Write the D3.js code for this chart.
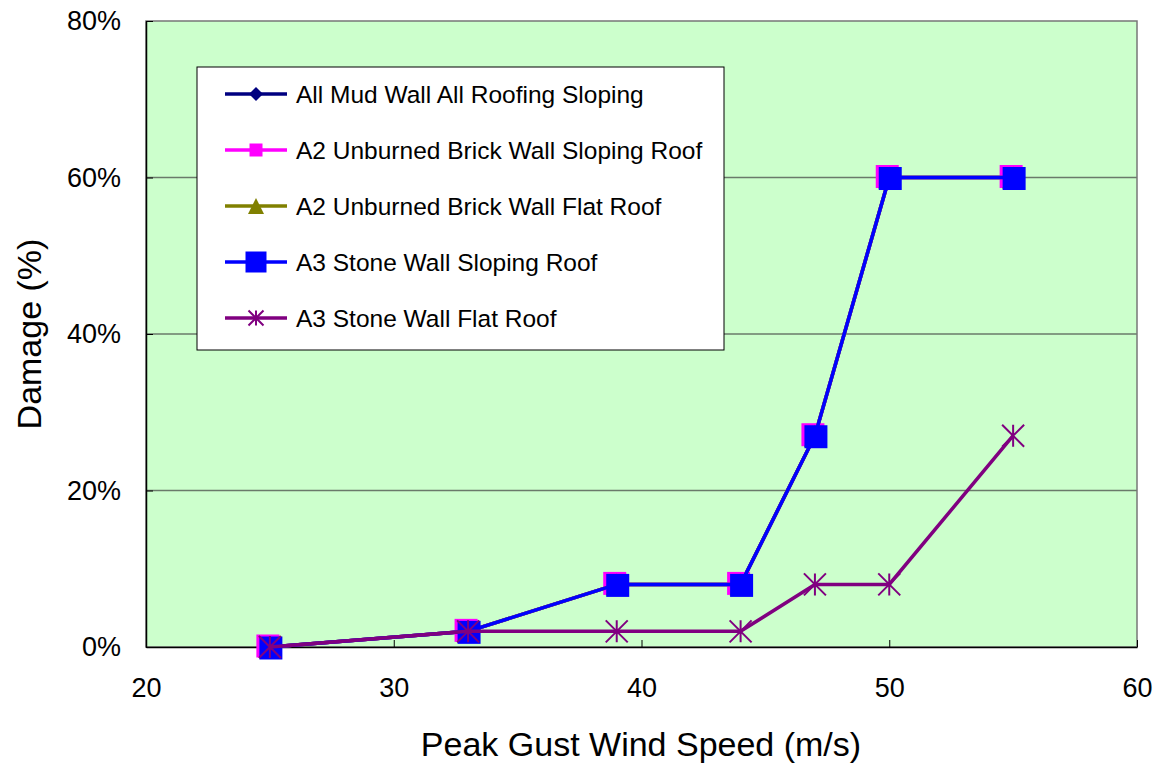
<!DOCTYPE html>
<html>
<head>
<meta charset="utf-8">
<script src="https://cdn.jsdelivr.net/npm/d3@7"></script>
<style>
  body { margin: 0; background: #fff; }
  text { font-family: "Liberation Sans", Arial, sans-serif; fill: #000; }
</style>
</head>
<body>
<div id="chart-area"></div>
<script>
// Damage vs peak gust wind speed
var windSpeeds = [25, 33, 39, 44, 47, 50, 55];
var mudSloping = [0, 2, 8, 8, 27, 60, 60];
var brickSloping = [0, 2, 8, 8, 27, 60, 60];
var brickFlat = [0, 2, 8, 8, 27, 60, 60];
var stoneSloping = [0, 2, 8, 8, 27, 60, 60];
var stoneFlat = [0, 2, 2, 2, 8, 8, 27];
var seriesNames = [
    "All Mud Wall All Roofing Sloping",
    "A2 Unburned Brick Wall Sloping Roof",
    "A2 Unburned Brick Wall Flat Roof",
    "A3 Stone Wall Sloping Roof",
    "A3 Stone Wall Flat Roof"
];
var xTicks = [20, 30, 40, 50, 60];
var yTicks = [0, 20, 40, 60, 80];

var styles = [
    {color: "#000080", shape: "diamond", size: 13, dx: 0, dy: 0},
    {color: "#ff00ff", shape: "square", size: 23, dx: -2, dy: -1},
    {color: "#808000", shape: "triangle", size: 22, dx: 0, dy: 0},
    {color: "#0000ff", shape: "square", size: 23, dx: 1, dy: 1},
    {color: "#800080", shape: "star", size: 22, dx: 0, dy: 0}
];
var legendSizes = [14, 13, 16, 21, 15];

var allValues = [mudSloping, brickSloping, brickFlat, stoneSloping, stoneFlat];
var series = seriesNames.map(function(name, i) {
    return {
        name: name,
        style: styles[i],
        values: windSpeeds.map(function(w, j) { return {x: w, y: allValues[i][j]}; })
    };
});

var margin = {left: 146, right: 20, top: 21, bottom: 120};
var totalW = 1157, totalH = 767;
var width = totalW - margin.left - margin.right,
    height = totalH - margin.top - margin.bottom;

var svg = d3.select("#chart-area").append("svg")
    .attr("width", totalW)
    .attr("height", totalH);

var g = svg.append("g").attr("transform", "translate(" + margin.left + "," + margin.top + ")");

var x = d3.scaleLinear().domain([20, 60]).range([0, width]);
var y = d3.scaleLinear().domain([0, 80]).range([height, 0]);

// plot background
g.append("rect")
    .attr("width", width)
    .attr("height", height)
    .attr("fill", "#ccffcc");

// gridlines
g.selectAll(".grid")
    .data(yTicks.slice(1, -1))
    .enter().append("line")
    .attr("x1", 0).attr("x2", width)
    .attr("y1", function(d) { return y(d); })
    .attr("y2", function(d) { return y(d); })
    .attr("stroke", "#6a7a6a")
    .attr("stroke-width", 1.5);

g.append("rect")
    .attr("width", width)
    .attr("height", height)
    .attr("fill", "none")
    .attr("stroke", "#777")
    .attr("stroke-width", 1.5);

// axes
var xAxis = d3.axisBottom(x).tickValues(xTicks).tickSizeInner(-7).tickSizeOuter(0).tickPadding(31);
var xAxisGroup = g.append("g").attr("transform", "translate(0," + height + ")").call(xAxis);
xAxisGroup.select(".domain").attr("stroke", "#000").attr("stroke-width", 1.5);
xAxisGroup.selectAll("text").attr("font-size", "27px").attr("font-family", "Liberation Sans, Arial, sans-serif");

var yAxis = d3.axisLeft(y).tickValues(yTicks).tickSizeInner(-7).tickSizeOuter(0).tickPadding(25)
    .tickFormat(function(d) { return d + "%"; });
var yAxisGroup = g.append("g").call(yAxis);
yAxisGroup.select(".domain").attr("stroke", "#000").attr("stroke-width", 1.5);
yAxisGroup.selectAll("text").attr("font-size", "27px").attr("font-family", "Liberation Sans, Arial, sans-serif");

// axis titles
svg.append("text")
    .attr("x", 641)
    .attr("y", 756)
    .attr("text-anchor", "middle")
    .attr("font-size", "34px")
    .text("Peak Gust Wind Speed (m/s)");
svg.append("text")
    .attr("transform", "translate(41," + (margin.top + height / 2) + ") rotate(-90)")
    .attr("text-anchor", "middle")
    .attr("font-size", "34px")
    .text("Damage (%)");

function markerPath(shape, size) {
    var s = size / 2;
    if (shape === "diamond") return "M0," + (-s) + "L" + s + ",0L0," + s + "L" + (-s) + ",0Z";
    if (shape === "square") return "M" + (-s) + "," + (-s) + "h" + size + "v" + size + "h" + (-size) + "Z";
    if (shape === "triangle") return "M0," + (-s) + "L" + s + "," + s + "L" + (-s) + "," + s + "Z";
    // star: X plus vertical bar
    return "M" + (-s) + "," + (-s) + "L" + s + "," + s +
        "M" + s + "," + (-s) + "L" + (-s) + "," + s +
        "M0," + (-s) + "L0," + s;
}

function drawMarker(sel, st, size) {
    var p = sel.append("path").attr("d", markerPath(st.shape, size));
    if (st.shape === "star") {
        p.attr("fill", "none").attr("stroke", st.color).attr("stroke-width", 2);
    } else {
        p.attr("fill", st.color);
    }
    return p;
}

var line = d3.line()
    .x(function(d) { return x(d.x); })
    .y(function(d) { return y(d.y); });

series.forEach(function(s) {
    var sg = g.append("g");
    sg.append("path")
        .datum(s.values)
        .attr("d", line)
        .attr("fill", "none")
        .attr("stroke", s.style.color)
        .attr("stroke-width", 3.5);
    s.values.forEach(function(d) {
        var m = sg.append("g")
            .attr("transform", "translate(" + (x(d.x) + s.style.dx) + "," + (y(d.y) + s.style.dy) + ")");
        drawMarker(m, s.style, s.style.size);
    });
});

// legend
var legend = svg.append("g").attr("transform", "translate(197,67)");
legend.append("rect")
    .attr("width", 527)
    .attr("height", 283)
    .attr("fill", "#fff")
    .attr("stroke", "#000")
    .attr("stroke-width", 1);

var legendY = d3.scalePoint().domain(seriesNames).range([27, 251]);
series.forEach(function(s, i) {
    var row = legend.append("g").attr("transform", "translate(0," + legendY(s.name) + ")");
    row.append("line")
        .attr("x1", 28).attr("x2", 90)
        .attr("stroke", s.style.color)
        .attr("stroke-width", 3.5);
    var m = row.append("g").attr("transform", "translate(59,0)");
    drawMarker(m, s.style, legendSizes[i]);
    row.append("text")
        .attr("x", 99)
        .attr("y", 9)
        .attr("font-size", "24.5px")
        .text(s.name);
});
</script>
</body>
</html>
